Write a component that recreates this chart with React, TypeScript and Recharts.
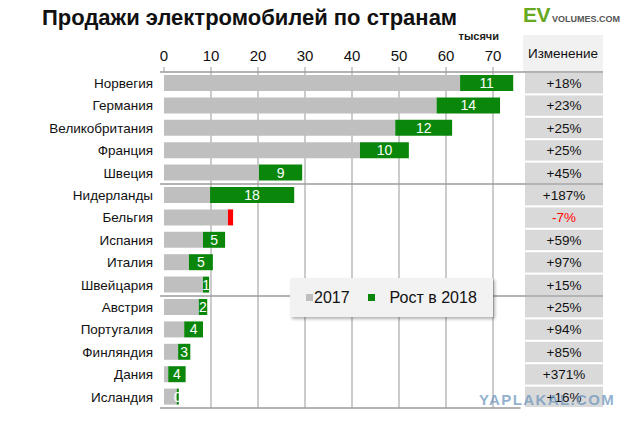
import React from 'react';
import { BarChart, Bar, Cell, XAxis, YAxis, CartesianGrid, LabelList } from 'recharts';

// Countries, top to bottom
const countries = ['Норвегия', 'Германия', 'Великобритания', 'Франция', 'Швеция', 'Нидерланды', 'Бельгия', 'Испания', 'Италия', 'Швейцария', 'Австрия', 'Португалия', 'Финляндия', 'Дания', 'Исландия'];
// 2017 sales, thousands (Belgium: 2018 value, as the drop is drawn on top)
const sales2017 = [63, 58, 49.2, 41.7, 20.2, 9.8, 13.6, 8.3, 5.3, 8.3, 7.4, 4.3, 3.0, 0.9, 2.7];
// growth in 2018, thousands (Belgium: size of the decline)
const growth2018 = [11.3, 13.5, 12.1, 10.4, 9.2, 17.9, 1.1, 4.7, 5.1, 1.3, 1.8, 4.0, 2.6, 3.7, 0.45];
const growthLabels = ['11', '14', '12', '10', '9', '18', '', '5', '5', '1', '2', '4', '3', '4', '0'];
const changes = ['+18%', '+23%', '+25%', '+25%', '+45%', '+187%', '-7%', '+59%', '+97%', '+15%', '+25%', '+94%', '+85%', '+371%', '+16%'];
const xTicks = [0, 10, 20, 30, 40, 50, 60, 70];
const groupEnds = [4, 9]; // separator lines after these rows

const W = 641;
const H = 431;
const PLOT_TOP = 72;
const PLOT_BOTTOM = 408;
const LEFT_W = 164;
const RIGHT_W = 124.5;
const FONT = '"Liberation Sans", Arial, sans-serif';

const data = countries.map((c, i) => ({
  country: c,
  base: sales2017[i],
  growth: growth2018[i],
  label: growthLabels[i],
  change: changes[i],
}));

const band = (PLOT_BOTTOM - PLOT_TOP) / countries.length;

// right axis tick: the "Изменение" column cell plus the row separator lines
const ChangeCell = (props: any) => {
  const { x, y, payload } = props;
  const i = payload.index;
  const cx = x + 8.5;
  const cw = 78;
  const neg = changes[i].startsWith('-');
  const lineLeft = LEFT_W - 4;
  return (
    <g>
      <rect x={cx} y={y - band / 2 + 1} width={cw} height={band - 2} fill="#d9d9d9" />
      <text x={cx + cw / 2} y={y} dy="0.36em" textAnchor="middle" fontSize={13.5} fontFamily={FONT} fill={neg ? '#ff0000' : '#111'}>
        {changes[i]}
      </text>
      {i === 0 && <line x1={lineLeft} x2={cx + cw} y1={y - band / 2} y2={y - band / 2} stroke="#9a9a9a" strokeWidth={1.5} />}
      {groupEnds.includes(i) && <line x1={lineLeft} x2={cx + cw} y1={y + band / 2} y2={y + band / 2} stroke="#9a9a9a" strokeWidth={1.5} />}
      {i === countries.length - 1 && <line x1={lineLeft} x2={x + 4} y1={y + band / 2} y2={y + band / 2} stroke="#9a9a9a" strokeWidth={1.5} />}
    </g>
  );
};

const App: React.FC = () => {
  return (
    <div style={{ position: 'relative', width: W, height: H, background: '#fff', fontFamily: FONT }}>
      <style>{'body{margin:0}'}</style>

      <div style={{ position: 'absolute', left: 42, top: 5, fontSize: 22, fontWeight: 'bold', color: '#111', whiteSpace: 'nowrap' }}>
        Продажи электромобилей по странам
      </div>
      <div style={{ position: 'absolute', left: 523, top: 3, whiteSpace: 'nowrap' }}>
        <span style={{ fontSize: 21, fontWeight: 'bold', color: '#66a81e', letterSpacing: -0.5 }}>EV</span>
        <span style={{ fontSize: 9, fontWeight: 'bold', color: '#555', marginLeft: 2 }}>VOLUMES.COM</span>
      </div>
      <div style={{ position: 'absolute', left: 523, top: 35, width: 80, height: 37, background: '#f1f1f1', display: 'flex', alignItems: 'center', justifyContent: 'center', fontSize: 13.5, color: '#111' }}>
        Изменение
      </div>
      <div style={{ position: 'absolute', right: 142, top: 30, fontSize: 11, fontWeight: 'bold', color: '#222' }}>тысячи</div>

      <BarChart width={W} height={H} layout="vertical" data={data} margin={{ top: PLOT_TOP - 40, right: 0, bottom: H - PLOT_BOTTOM, left: 0 }}>
        <CartesianGrid horizontal={false} verticalValues={[10, 20, 30, 40, 50, 60, 70]} stroke="#a8a8a8" strokeWidth={1.2} />
        <XAxis
          type="number"
          orientation="top"
          domain={[0, 75]}
          ticks={xTicks}
          height={40}
          axisLine={false}
          tickSize={5}
          tickMargin={6}
          stroke="#9a9a9a"
          tick={{ fontSize: 15, fill: '#111', fontFamily: FONT }}
          interval={0}
        />
        <YAxis
          yAxisId="left"
          type="category"
          dataKey="country"
          width={LEFT_W}
          axisLine={false}
          tickLine={false}
          tickSize={0}
          tickMargin={11}
          interval={0}
          tick={{ fontSize: 13.5, fill: '#111', fontFamily: FONT }}
        />
        <YAxis
          yAxisId="right"
          orientation="right"
          type="category"
          dataKey="country"
          width={RIGHT_W}
          axisLine={false}
          tickLine={false}
          tickSize={0}
          tickMargin={0}
          interval={0}
          tick={<ChangeCell />}
        />
        <Bar yAxisId="left" dataKey="base" stackId="s" fill="#bfbfbf" barSize={16} isAnimationActive={false} />
        <Bar yAxisId="left" dataKey="growth" stackId="s" fill="#0a8a0a" barSize={16} isAnimationActive={false}>
          {data.map((d, i) => (
            <Cell key={i} fill={d.change.startsWith('-') ? '#ff0000' : '#0a870a'} />
          ))}
          <LabelList dataKey="label" position="center" fill="#fff" fontSize={14} fontFamily={FONT} />
        </Bar>
      </BarChart>

      <div
        style={{
          position: 'absolute', left: 290, top: 278, width: 203, height: 39, background: '#f2f2f2',
          boxShadow: '2px 2px 3px rgba(0,0,0,0.3)', display: 'flex', alignItems: 'center', fontSize: 16, color: '#111',
        }}
      >
        <span style={{ display: 'inline-block', width: 7, height: 7, background: '#bfbfbf', marginLeft: 16, marginRight: 1 }} />
        <span>2017</span>
        <span style={{ display: 'inline-block', width: 7, height: 7, background: '#0a870a', marginLeft: 18, marginRight: 15 }} />
        <span>Рост в 2018</span>
      </div>

      <div style={{ position: 'absolute', left: 479, top: 391, fontSize: 15, fontWeight: 'bold', color: 'rgba(110,150,190,0.75)', letterSpacing: 1.4 }}>
        YAPLAKAL.COM
      </div>
    </div>
  );
};

export default App;
